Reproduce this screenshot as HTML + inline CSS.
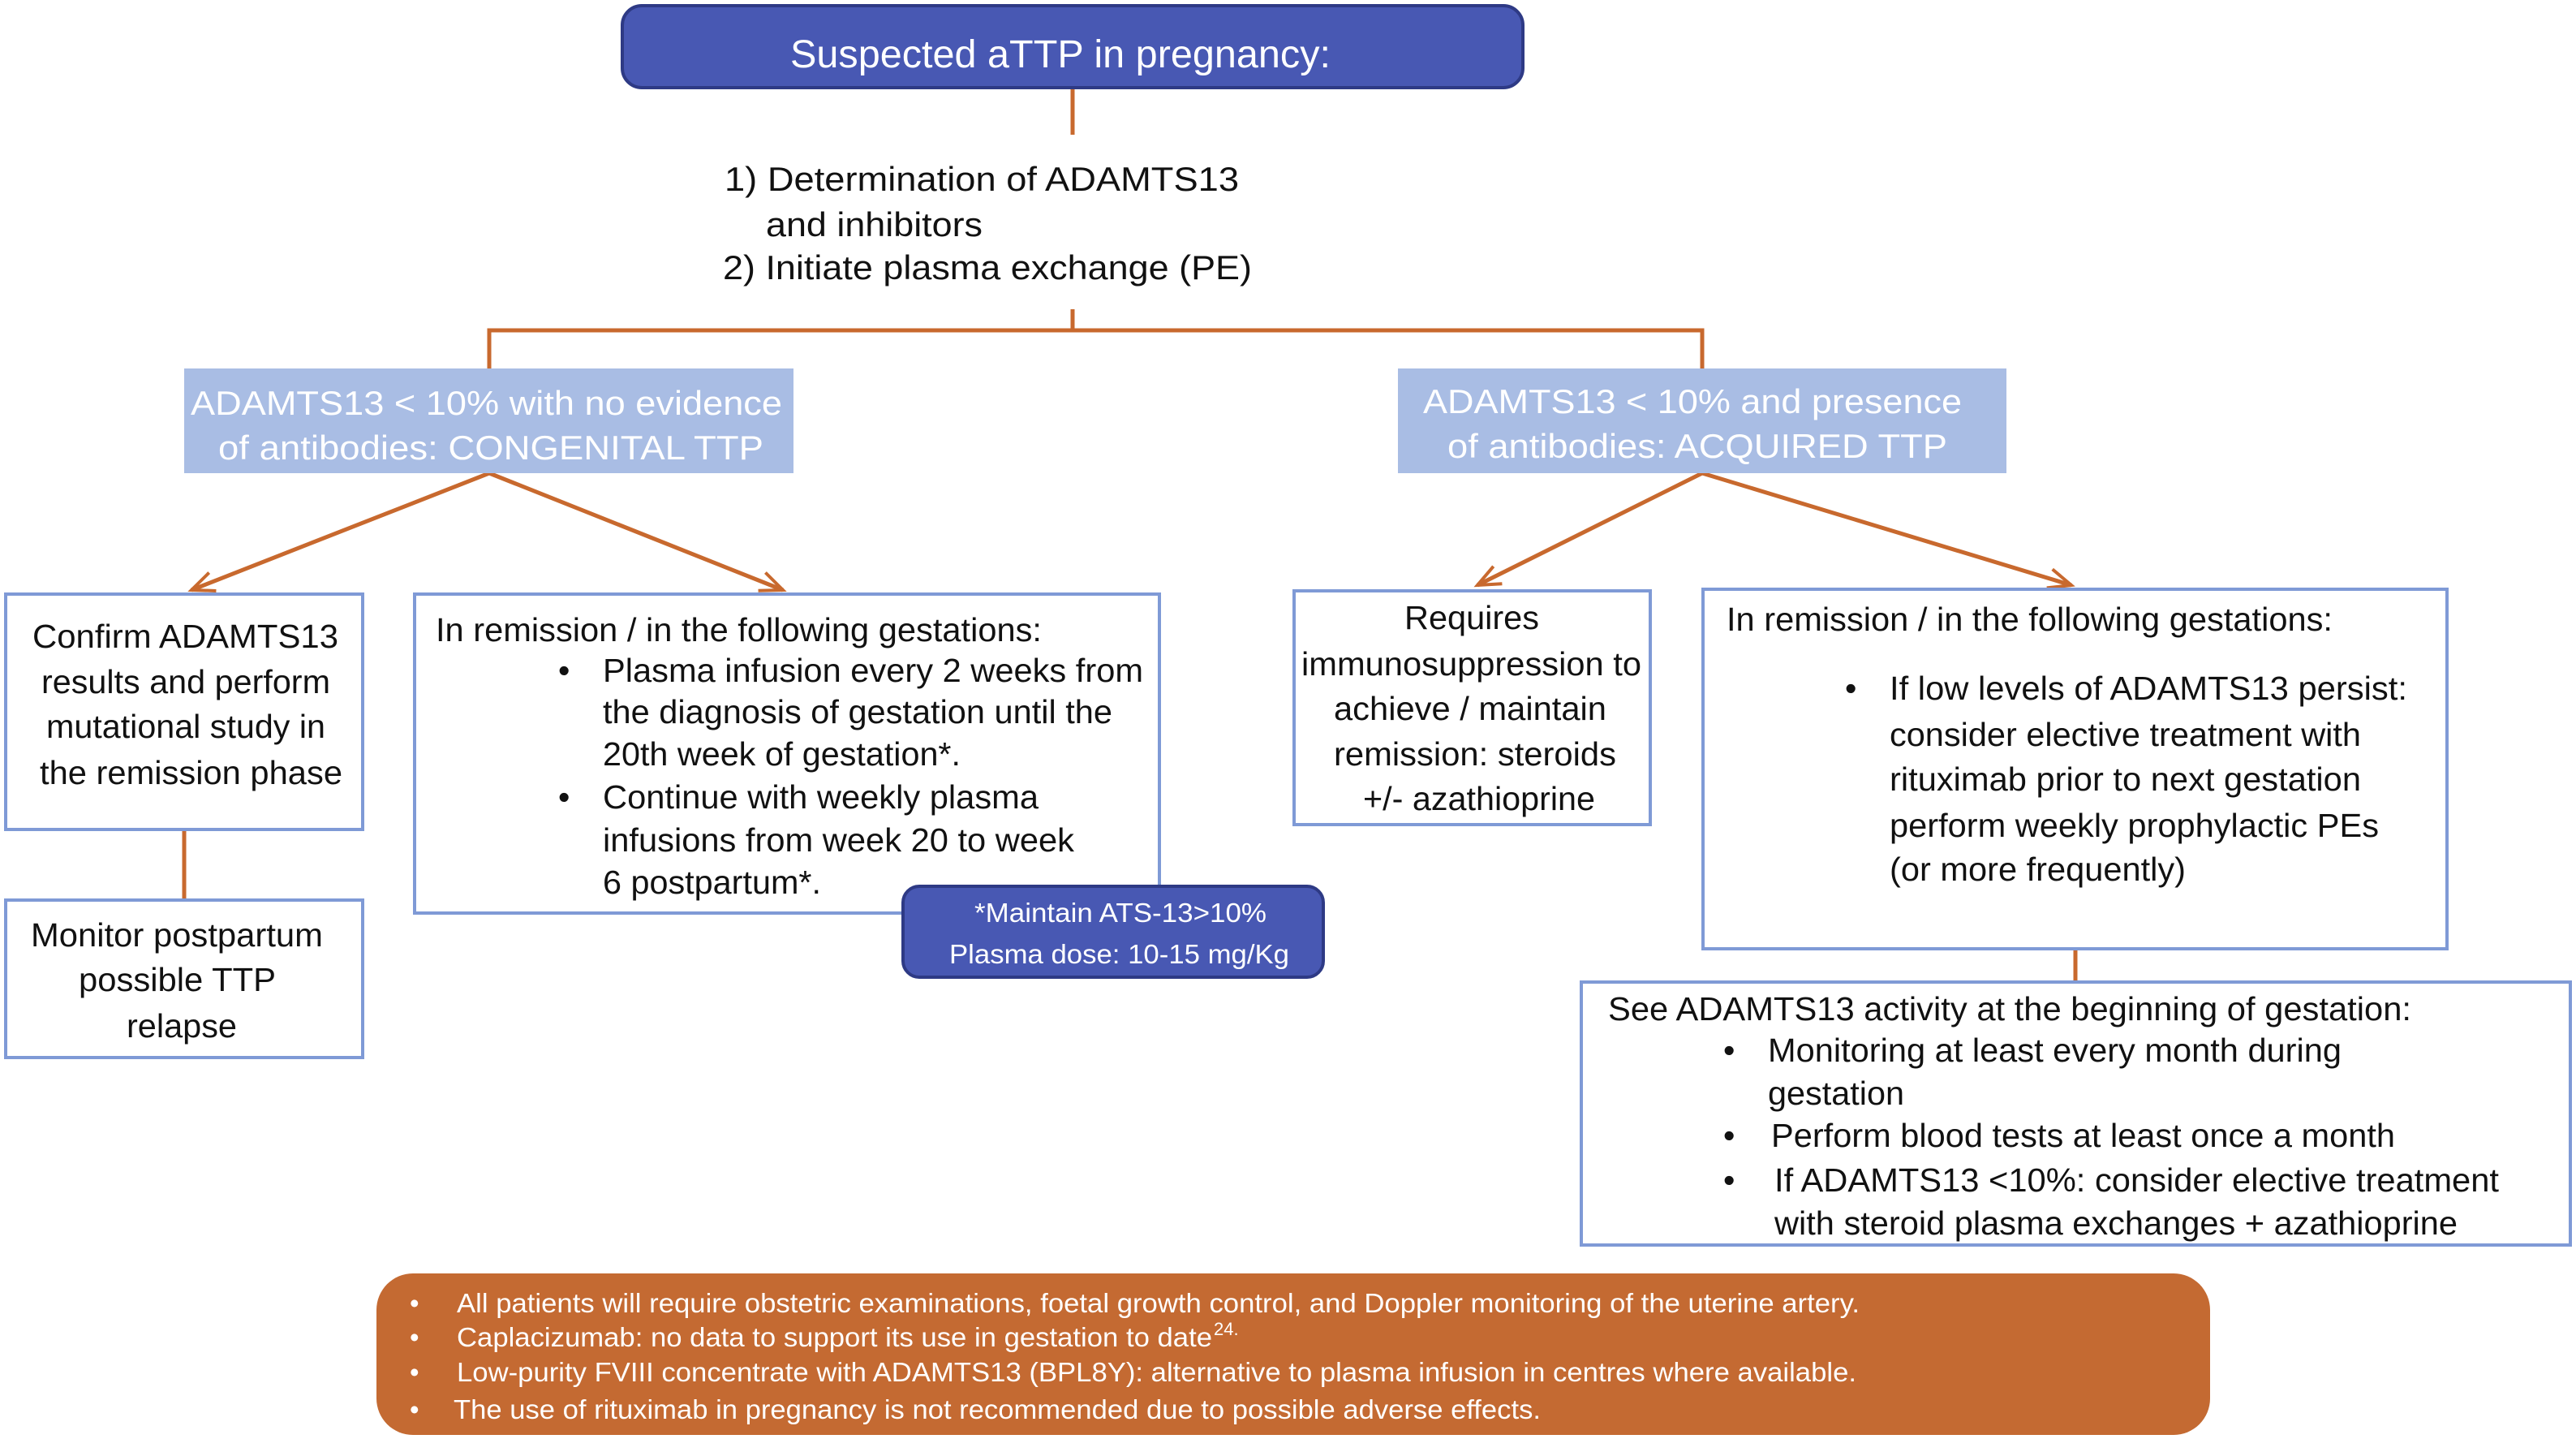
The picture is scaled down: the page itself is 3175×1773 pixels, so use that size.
<!DOCTYPE html>
<html><head><meta charset="utf-8"><style>
html,body{margin:0;padding:0;background:#fff}
svg{display:block}
text{font-family:"Liberation Sans",Arial,sans-serif}
</style></head><body>
<svg width="3175" height="1773" viewBox="0 0 3175 1773" xmlns="http://www.w3.org/2000/svg">
<defs>
<marker id="ah" markerUnits="userSpaceOnUse" markerWidth="40" markerHeight="40" refX="30" refY="15" orient="auto">
<path d="M2,3 L30,15 L2,27" fill="none" stroke="#c8692e" stroke-width="4"/>
</marker>
</defs>
<rect width="3175" height="1773" fill="#fff"/>
<g stroke="#c8692e" stroke-width="5" fill="none">
<line x1="1322" y1="110" x2="1322" y2="166"/>
<line x1="1322" y1="381" x2="1322" y2="407"/>
<polyline points="603,454 603,407 2098,407 2098,454"/>
<line x1="603" y1="583" x2="236" y2="727" marker-end="url(#ah)"/>
<line x1="603" y1="583" x2="965" y2="727" marker-end="url(#ah)"/>
<line x1="2098" y1="583" x2="1821" y2="721" marker-end="url(#ah)"/>
<line x1="2098" y1="583" x2="2553" y2="721" marker-end="url(#ah)"/>
<line x1="227" y1="1023" x2="227" y2="1108"/>
<line x1="2558" y1="1170" x2="2558" y2="1209"/>
</g>
<rect x="767" y="7" width="1110" height="101" rx="24" fill="#4858b3" stroke="#2e3a85" stroke-width="4"/>
<text x="1307" y="83" fill="#fff" font-size="48" text-anchor="middle" textLength="666" lengthAdjust="spacingAndGlyphs">Suspected aTTP in pregnancy:</text>
<g font-size="42" fill="#111">
<text x="893" y="235" textLength="634" lengthAdjust="spacingAndGlyphs">1) Determination of ADAMTS13</text>
<text x="944" y="291" textLength="267" lengthAdjust="spacingAndGlyphs">and inhibitors</text>
<text x="891" y="344" textLength="652" lengthAdjust="spacingAndGlyphs">2) Initiate plasma exchange (PE)</text>
</g>
<rect x="227" y="454" width="751" height="129" fill="#a9bde4"/>
<rect x="1723" y="454" width="750" height="129" fill="#a9bde4"/>
<g font-size="42" fill="#fff">
<text x="235" y="511" textLength="729" lengthAdjust="spacingAndGlyphs">ADAMTS13 &lt; 10% with no evidence</text>
<text x="269" y="566" textLength="672" lengthAdjust="spacingAndGlyphs">of antibodies: CONGENITAL TTP</text>
<text x="1754" y="509" textLength="664" lengthAdjust="spacingAndGlyphs">ADAMTS13 &lt; 10% and presence</text>
<text x="1784" y="564" textLength="616" lengthAdjust="spacingAndGlyphs">of antibodies: ACQUIRED TTP</text>
</g>
<g fill="#fff" stroke="#7f9ad6" stroke-width="4">
<rect x="7" y="732" width="440" height="290"/>
<rect x="7" y="1109" width="440" height="194"/>
<rect x="511" y="732" width="918" height="393"/>
<rect x="1595" y="728" width="439" height="288"/>
<rect x="2099" y="726" width="917" height="443"/>
<rect x="1949" y="1210" width="1219" height="324"/>
</g>
<g font-size="41" fill="#111">
<text x="40" y="798" textLength="377" lengthAdjust="spacingAndGlyphs">Confirm ADAMTS13</text>
<text x="51" y="854" textLength="356" lengthAdjust="spacingAndGlyphs">results and perform</text>
<text x="57" y="909" textLength="344" lengthAdjust="spacingAndGlyphs">mutational study in</text>
<text x="49" y="966" textLength="373" lengthAdjust="spacingAndGlyphs">the remission phase</text>

<text x="38" y="1166" textLength="360" lengthAdjust="spacingAndGlyphs">Monitor postpartum</text>
<text x="97" y="1221" textLength="243" lengthAdjust="spacingAndGlyphs">possible TTP</text>
<text x="156" y="1278" textLength="136" lengthAdjust="spacingAndGlyphs">relapse</text>

<text x="537" y="790" textLength="747" lengthAdjust="spacingAndGlyphs">In remission / in the following gestations:</text>
<text x="688" y="840">•</text>
<text x="743" y="840" textLength="666" lengthAdjust="spacingAndGlyphs">Plasma infusion every 2 weeks from</text>
<text x="743" y="891" textLength="628" lengthAdjust="spacingAndGlyphs">the diagnosis of gestation until the</text>
<text x="743" y="943" textLength="441" lengthAdjust="spacingAndGlyphs">20th week of gestation*.</text>
<text x="688" y="996">•</text>
<text x="743" y="996" textLength="537" lengthAdjust="spacingAndGlyphs">Continue with weekly plasma</text>
<text x="743" y="1049" textLength="581" lengthAdjust="spacingAndGlyphs">infusions from week 20 to week</text>
<text x="743" y="1101" textLength="269" lengthAdjust="spacingAndGlyphs">6 postpartum*.</text>

<text x="1731" y="775" textLength="166" lengthAdjust="spacingAndGlyphs">Requires</text>
<text x="1604" y="832" textLength="419" lengthAdjust="spacingAndGlyphs">immunosuppression to</text>
<text x="1644" y="887" textLength="336" lengthAdjust="spacingAndGlyphs">achieve / maintain</text>
<text x="1644" y="943" textLength="348" lengthAdjust="spacingAndGlyphs">remission: steroids</text>
<text x="1680" y="998" textLength="286" lengthAdjust="spacingAndGlyphs">+/- azathioprine</text>

<text x="2128" y="777" textLength="747" lengthAdjust="spacingAndGlyphs">In remission / in the following gestations:</text>
<text x="2274" y="862">•</text>
<text x="2329" y="862" textLength="638" lengthAdjust="spacingAndGlyphs">If low levels of ADAMTS13 persist:</text>
<text x="2329" y="919" textLength="581" lengthAdjust="spacingAndGlyphs">consider elective treatment with</text>
<text x="2329" y="974" textLength="581" lengthAdjust="spacingAndGlyphs">rituximab prior to next gestation</text>
<text x="2329" y="1031" textLength="603" lengthAdjust="spacingAndGlyphs">perform weekly prophylactic PEs</text>
<text x="2329" y="1085" textLength="365" lengthAdjust="spacingAndGlyphs">(or more frequently)</text>

<text x="1982" y="1257" textLength="990" lengthAdjust="spacingAndGlyphs">See ADAMTS13 activity at the beginning of gestation:</text>
<text x="2124" y="1308">•</text>
<text x="2179" y="1308" textLength="707" lengthAdjust="spacingAndGlyphs">Monitoring at least every month during</text>
<text x="2179" y="1361" textLength="168" lengthAdjust="spacingAndGlyphs">gestation</text>
<text x="2124" y="1413">•</text>
<text x="2183" y="1413" textLength="769" lengthAdjust="spacingAndGlyphs">Perform blood tests at least once a month</text>
<text x="2124" y="1468">•</text>
<text x="2187" y="1468" textLength="893" lengthAdjust="spacingAndGlyphs">If ADAMTS13 &lt;10%: consider elective treatment</text>
<text x="2187" y="1521" textLength="842" lengthAdjust="spacingAndGlyphs">with steroid plasma exchanges + azathioprine</text>
</g>
<rect x="1113" y="1092" width="518" height="112" rx="20" fill="#4858b3" stroke="#2e3a85" stroke-width="4"/>
<g font-size="33" fill="#fff">
<text x="1201" y="1136" textLength="360" lengthAdjust="spacingAndGlyphs">*Maintain ATS-13&gt;10%</text>
<text x="1170" y="1187" textLength="419" lengthAdjust="spacingAndGlyphs">Plasma dose: 10-15 mg/Kg</text>
</g>
<rect x="464" y="1569" width="2260" height="199" rx="45" fill="#c46a32"/>
<g font-size="33" fill="#fff">
<text x="505" y="1617">•</text>
<text x="563" y="1617" textLength="1729" lengthAdjust="spacingAndGlyphs">All patients will require obstetric examinations, foetal growth control, and Doppler monitoring of the uterine artery.</text>
<text x="505" y="1659">•</text>
<text x="563" y="1659" textLength="931" lengthAdjust="spacingAndGlyphs">Caplacizumab: no data to support its use in gestation to date</text>
<text x="1496" y="1645" font-size="22">24.</text>
<text x="505" y="1702">•</text>
<text x="563" y="1702" textLength="1725" lengthAdjust="spacingAndGlyphs">Low-purity FVIII concentrate with ADAMTS13 (BPL8Y): alternative to plasma infusion in centres where available.</text>
<text x="505" y="1748">•</text>
<text x="559" y="1748" textLength="1340" lengthAdjust="spacingAndGlyphs">The use of rituximab in pregnancy is not recommended due to possible adverse effects.</text>
</g>
</svg>
</body></html>
